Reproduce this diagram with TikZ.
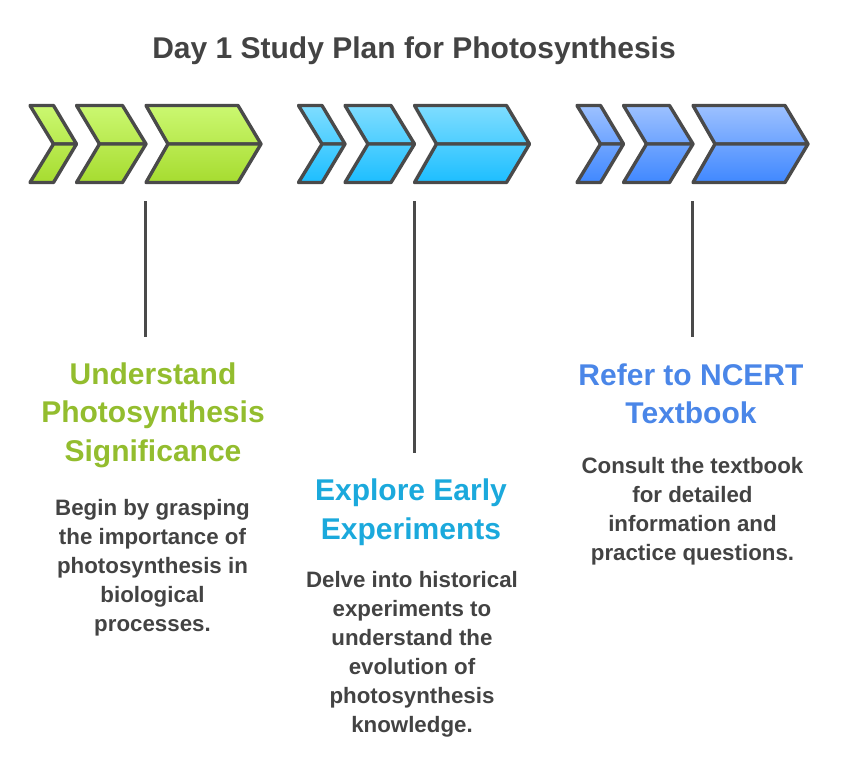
\documentclass[tikz,border=0pt]{standalone}
\usepackage{fontspec}
\setmainfont{Liberation Sans}
\usetikzlibrary{positioning}
\definecolor{inkline}{HTML}{4A4A4A}
\definecolor{inktext}{HTML}{434343}
\definecolor{limeA}{HTML}{CBF871}
\definecolor{limeB}{HTML}{B9EA50}
\definecolor{limeC}{HTML}{A6DC30}
\definecolor{limeT}{HTML}{93BD2E}
\definecolor{skyA}{HTML}{7FDDFF}
\definecolor{skyB}{HTML}{4ECEFF}
\definecolor{skyC}{HTML}{1DBEFF}
\definecolor{skyT}{HTML}{1BA9DC}
\definecolor{azureA}{HTML}{9DC1FF}
\definecolor{azureB}{HTML}{6EA4FF}
\definecolor{azureC}{HTML}{4088FF}
\definecolor{azureT}{HTML}{4A86E8}

\begin{document}
\begin{tikzpicture}[x=1pt,y=-1pt,
    chevron/.style={draw=inkline,line width=3.4pt,line join=round,line cap=round},
    stem/.style={draw=inkline,line width=3pt},
    titletext/.style={text=inktext,inner sep=0pt,align=center,font=\bfseries\fontsize{30}{38}\selectfont},
    headtext/.style={inner sep=0pt,align=center,font=\bfseries\fontsize{30}{38.5}\selectfont},
    bodytext/.style={text=inktext,inner sep=0pt,align=center,font=\bfseries\fontsize{22.3}{29}\selectfont}]
    \useasboundingbox (0,0) rectangle (846,758);

    \node[titletext] (title) at (414,51) {Day 1 Study Plan for Photosynthesis};

    % three groups of three chevrons
    \foreach \dx/\hue in {0/lime,268.5/sky,547/azure}{
        \foreach \xa/\xb/\xc/\xd in {30/53.5/53.5/76.5,76.5/99.5/122.5/146,146/168/238/261}{
            \path[chevron,top color=\hue A,bottom color=\hue B]
                (\dx+\xa,105.5) -- (\dx+\xc,105.5) -- (\dx+\xd,144) -- (\dx+\xb,144) -- cycle;
            \path[chevron,top color=\hue B,bottom color=\hue C]
                (\dx+\xb,144) -- (\dx+\xd,144) -- (\dx+\xc,182.5) -- (\dx+\xa,182.5) -- cycle;
        }
    }

    \coordinate (topA) at (145,201);
    \coordinate (endA) at (145,337);
    \coordinate (topB) at (414,201);
    \coordinate (endB) at (414,453);
    \coordinate (topC) at (692,201);
    \coordinate (endC) at (692,337);
    \draw[stem] (topA) -- (endA);
    \draw[stem] (topB) -- (endB);
    \draw[stem] (topC) -- (endC);

    \node[headtext,text=limeT] (understand) at (153,415) {Understand\\Photosynthesis\\Significance};
    \node[bodytext] (understandtxt) [below=31.5pt of understand,xshift=-0.5pt] {Begin by grasping\\the importance of\\photosynthesis in\\biological\\processes.};

    \node[headtext,text=skyT] (explore) at (411,512) {Explore Early\\Experiments};
    \node[bodytext] (exploretxt) [below=26pt of explore,xshift=1pt] {Delve into historical\\experiments to\\understand the\\evolution of\\photosynthesis\\knowledge.};

    \node[headtext,text=azureT] (refer) at (691,394) {Refer to NCERT\\Textbook};
    \node[bodytext] (refertxt) [below=32.5pt of refer,xshift=1.5pt] {Consult the textbook\\for detailed\\information and\\practice questions.};
\end{tikzpicture}
\end{document}
